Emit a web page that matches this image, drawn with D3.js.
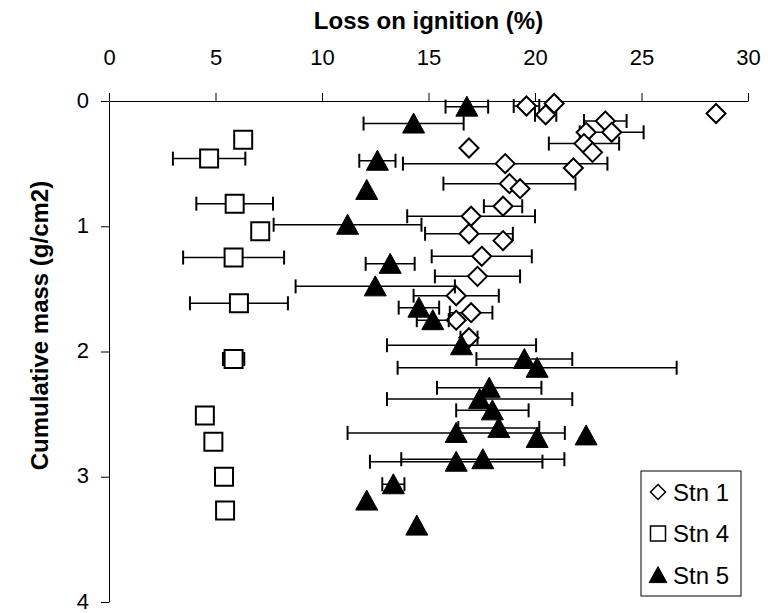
<!DOCTYPE html>
<html>
<head>
<meta charset="utf-8">
<script src="https://cdn.jsdelivr.net/npm/d3@7"></script>
<style>
  html, body { margin: 0; padding: 0; background: #fff; }
  svg { display: block; font-family: Arial, "Liberation Sans", sans-serif; }
</style>
</head>
<body>
<svg id="chart" width="768" height="613"></svg>
<script>
// ---------- data ----------
const xTicks = [0, 5, 10, 15, 20, 25, 30];
const yTicks = [0, 1, 2, 3, 4];
const seriesNames = ["Stn 1", "Stn 4", "Stn 5"];

// Stn 1 (open diamonds)
const stn1Loi  = [20.9, 19.6, 20.5, 28.5, 23.3, 22.4, 23.6, 22.3, 16.9, 22.7, 18.6, 21.8, 18.8, 19.3, 18.5, 17.0, 16.9, 18.5, 17.5, 17.3, 16.3, 17.0, 16.3, 16.9];
const stn1Mass = [0.02, 0.04, 0.11, 0.10, 0.16, 0.25, 0.25, 0.34, 0.375, 0.41, 0.50, 0.535, 0.66, 0.70, 0.84, 0.92, 1.06, 1.115, 1.24, 1.40, 1.555, 1.69, 1.75, 1.89];
const stn1Err  = [null, 0.6, 0.5, null, 1.0, null, 1.5, 1.65, null, null, 4.8, null, 3.1, null, 0.9, 3.0, 2.06, null, 2.35, 2.0, 2.0, 1.0, null, 0.4];

// Stn 4 (open squares)
const stn4Loi  = [6.3, 4.7, 5.9, 7.1, 5.85, 6.1, 5.85, 4.5, 4.9, 5.4, 5.45];
const stn4Mass = [0.31, 0.46, 0.82, 1.04, 1.25, 1.615, 2.06, 2.51, 2.72, 3.0, 3.27];
const stn4Err  = [null, 1.7, 1.8, null, 2.37, 2.3, 0.5, 0.03, 0.37, null, null];

// Stn 5 (filled triangles)
const stn5Loi  = [16.8, 14.3, 12.6, 12.1, 11.2, 13.2, 12.5, 14.55, 15.2, 16.55, 19.5, 20.1, 17.85, 17.4, 18.0, 18.3, 16.3, 20.1, 22.4, 16.3, 17.55, 13.35, 12.1, 14.45];
const stn5Mass = [0.045, 0.18, 0.477, 0.71, 0.988, 1.3, 1.48, 1.65, 1.75, 1.95, 2.06, 2.13, 2.29, 2.38, 2.47, 2.61, 2.65, 2.69, 2.67, 2.88, 2.86, 3.06, 3.19, 3.39];
const stn5Err  = [1.0, 2.35, 0.85, null, 3.47, 1.15, 3.74, 0.95, 0.75, 3.5, 2.25, 6.55, 2.45, 4.35, 1.7, 1.9, 5.1, null, null, 4.05, 3.83, 0.52, null, null];

// ---------- layout ----------
const svg = d3.select("#chart");
const x = d3.scaleLinear().domain([0, 30]).range([109, 748]);
const y = d3.scaleLinear().domain([0, 4]).range([101, 602]);

function markerPath(kind, s) {
  if (kind === "diamond") return `M0,${-s}L${s},0L0,${s}L${-s},0Z`;
  if (kind === "square") return `M${-s},${-s}H${s}V${s}H${-s}Z`;
  return `M0,${-s*1.05}L${s*1.1},${s*0.95}L${-s*1.1},${s*0.95}Z`;
}
const styles = {
  diamond: { fill: "#fff", stroke: "#000", sw: 2, size: 9.5 },
  square: { fill: "#fff", stroke: "#000", sw: 2, size: 9 },
  triangle: { fill: "#000", stroke: "#000", sw: 1, size: 10 }
};

const series = [
  { name: seriesNames[0], kind: "diamond", loi: stn1Loi, mass: stn1Mass, err: stn1Err },
  { name: seriesNames[1], kind: "square", loi: stn4Loi, mass: stn4Mass, err: stn4Err },
  { name: seriesNames[2], kind: "triangle", loi: stn5Loi, mass: stn5Mass, err: stn5Err }
];

// ---------- axes ----------
const xAxis = svg.append("g")
  .attr("transform", `translate(0,${y(0)})`)
  .call(d3.axisTop(x).tickValues(xTicks).tickFormat(d3.format("d"))
    .tickSize(8).tickSizeOuter(0).tickPadding(28));
const yAxis = svg.append("g")
  .attr("transform", `translate(${x(0)},0)`)
  .call(d3.axisLeft(y).tickValues(yTicks).tickFormat(d3.format("d"))
    .tickSize(8).tickSizeOuter(0).tickPadding(12));

[xAxis, yAxis].forEach(g => {
  g.select(".domain").attr("stroke", "#000").attr("stroke-width", 1);
  g.selectAll(".tick line").attr("stroke", "#000").attr("stroke-width", 1);
  g.selectAll(".tick text")
    .attr("fill", "#000")
    .style("font-family", "Arial, 'Liberation Sans', sans-serif")
    .style("font-size", "22px");
});
yAxis.selectAll(".tick text").attr("dy", "0.28em");

// titles
svg.append("text")
  .attr("x", (x(0) + x(30)) / 2).attr("y", 29)
  .attr("text-anchor", "middle")
  .style("font-size", "24px").style("font-weight", "bold")
  .text("Loss on ignition (%)");
svg.append("text")
  .attr("transform", `translate(48,${(y(0) + y(4)) / 2 - 26}) rotate(-90)`)
  .attr("text-anchor", "middle")
  .style("font-size", "24px").style("font-weight", "bold")
  .text("Cumulative mass (g/cm2)");

// ---------- data marks ----------
const plot = svg.append("g");
series.forEach(s => {
  const pts = s.loi.map((v, i) => ({ v, m: s.mass[i], e: s.err[i] }));
  const st = styles[s.kind];
  const eb = plot.append("g").attr("class", "errbars");
  pts.filter(p => p.e != null).forEach(p => {
    eb.append("line")
      .attr("x1", x(p.v - p.e)).attr("x2", x(p.v + p.e))
      .attr("y1", y(p.m)).attr("y2", y(p.m))
      .attr("stroke", "#000").attr("stroke-width", 1.5);
    [p.v - p.e, p.v + p.e].forEach(end => {
      eb.append("line")
        .attr("x1", x(end)).attr("x2", x(end))
        .attr("y1", y(p.m) - 7).attr("y2", y(p.m) + 7)
        .attr("stroke", "#000").attr("stroke-width", 2);
    });
  });
  plot.append("g").selectAll("path").data(pts).join("path")
    .attr("transform", p => `translate(${x(p.v)},${y(p.m)})`)
    .attr("d", markerPath(s.kind, st.size))
    .attr("fill", st.fill).attr("stroke", st.stroke)
    .attr("stroke-width", st.sw).attr("stroke-linejoin", "miter");
});

// ---------- legend ----------
const lg = svg.append("g");
lg.append("rect").attr("x", 641).attr("y", 471).attr("width", 100).attr("height", 125)
  .attr("fill", "#fff").attr("stroke", "#000").attr("stroke-width", 1);
series.forEach((s, i) => {
  const cy = 492 + i * 41.5;
  const st = styles[s.kind];
  lg.append("path")
    .attr("transform", `translate(658,${cy})`)
    .attr("d", markerPath(s.kind, s.kind === "triangle" ? 8 : 7.5))
    .attr("fill", st.fill).attr("stroke", "#000")
    .attr("stroke-width", s.kind === "triangle" ? 1 : 1.5);
  lg.append("text").attr("x", 673).attr("y", cy + 8.5)
    .style("font-size", "24px").text(s.name);
});
</script>
</body>
</html>
